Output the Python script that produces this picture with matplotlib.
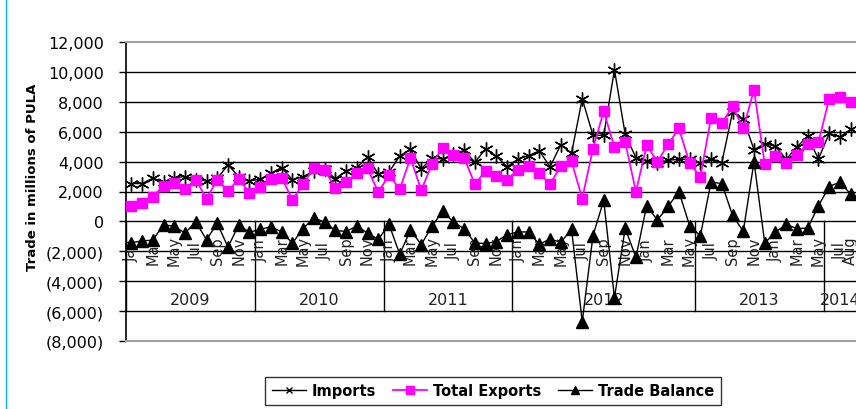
import numpy as np
import matplotlib
matplotlib.use("Agg")
import matplotlib.pyplot as plt
from matplotlib.lines import Line2D

# monthly trade data, Jan 2009 - Aug 2014 (millions of Pula)
imports = [2530, 2530, 2890, 2640, 2930, 3000, 2780, 2710, 2870, 3780, 3000, 2710,
           2820, 3220, 3600, 2780, 3000, 3350, 3480, 2860, 3370, 3600, 4330, 3160,
           3300, 4380, 4820, 3520, 4220, 4180, 4480, 4750, 3960, 4850, 4360, 3650,
           4160, 4400, 4720, 3650, 5130, 4550, 8200, 5760, 5760, 10150, 5820, 4260,
           4020, 3930, 4090, 4150, 4150, 3890, 4200, 3930, 7300, 6860, 4800, 5200,
           5020, 4150, 4980, 5700, 4170, 5880, 5650, 6150]
exports = [1040, 1220, 1660, 2380, 2550, 2150, 2780, 1530, 2780, 2040, 2820, 1930,
           2290, 2820, 2930, 1440, 2490, 3600, 3420, 2260, 2640, 3220, 3560, 1950,
           3100, 2160, 4250, 2080, 3830, 4940, 4430, 4260, 2480, 3400, 3020, 2780,
           3440, 3710, 3210, 2490, 3710, 4020, 1530, 4870, 7370, 4970, 5300, 1980,
           5080, 4000, 5150, 6220, 3890, 3000, 6930, 6550, 7700, 6220, 8800, 3830,
           4360, 3920, 4450, 5170, 5290, 8190, 8300, 8000]
balance = [-1420, -1310, -1250, -220, -340, -780, -30, -1230, -130, -1720, -230, -730,
           -530, -360, -700, -1460, -480, 250, -60, -600, -680, -300, -780, -1200,
           -200, -2200, -570, -1550, -330, 700, -50, -490, -1450, -1480, -1350, -880,
           -710, -700, -1530, -1180, -1400, -520, -6700, -950, 1400, -5100, -460, -2400,
           1050, 90, 1000, 2000, -280, -980, 2650, 2520, 410, -670, 4000, -1450,
           -710, -200, -480, -450, 1040, 2330, 2630, 1830]

month_names = ['Jan', 'Feb', 'Mar', 'Apr', 'May', 'Jun',
               'Jul', 'Aug', 'Sep', 'Oct', 'Nov', 'Dec']
# year groups as they appear on the category axis
year_labels = ['2009', '2010', '2011', '2012', '2013', '2014']
year_sizes = [12, 12, 12, 17, 12, 3]

n = len(imports)
x = np.arange(n)
months = [month_names[i % 12] for i in range(n)]

fig = plt.figure(figsize=(8.56, 4.10), dpi=100)
ax = fig.add_axes([126/856, 1 - 342/410, 730/856, 299/410])

ax.set_xlim(-0.5, n - 0.5)
ax.set_ylim(-8000, 12000)
yt = np.arange(-8000, 12001, 2000)
ax.set_yticks(yt)
ax.set_yticklabels([f"({abs(v):,})" if v < 0 else f"{v:,}" for v in yt], fontsize=11.5)
ax.tick_params(axis='y', direction='out', length=5, width=1, pad=11)
ax.set_xticks([])
for v in yt[1:-1]:
    ax.axhline(v, color='black', lw=1.0, zorder=1)

for s in ['top', 'bottom']:
    ax.spines[s].set_color('#a0a0a0')
    ax.spines[s].set_linewidth(1.5)
ax.spines['right'].set_visible(False)
ax.spines['left'].set_color('black')
ax.spines['left'].set_linewidth(1.2)

# multi-level category labels
for i in range(n):
    if i % 2 == 0 or i == n - 1:
        ax.text(i, -1900, months[i], rotation=90, ha='center', va='center',
                fontsize=10.5, color='#222222', zorder=2)
start = 0
for lab, size in zip(year_labels, year_sizes):
    ax.plot([start - 0.5, start - 0.5], [0, -6000], color='black', lw=1.0, zorder=1)
    ax.text(start + (size - 1) / 2, -5250, lab, ha='center', va='center',
            fontsize=11.5, color='#222222', zorder=2, clip_on=False)
    start += size

ax.plot(x, imports, color='black', lw=1.0, marker=(6, 2, 0), ms=10, mew=1.0,
        zorder=4, label='Imports')
ax.plot(x, exports, color='#ff00ff', lw=1.3, marker='s', ms=7, mec='#ff00ff',
        zorder=5, label='Total Exports')
ax.plot(x, balance, color='black', lw=1.0, marker='^', ms=9, zorder=6,
        label='Trade Balance')

ax.set_ylabel('Trade in millions of PULA', fontsize=9.5, fontweight='bold')
ax.yaxis.set_label_coords(-0.119, 0.55)

handles = [
    Line2D([], [], color='black', lw=1.0, marker='x', ms=4, mew=1.0),
    Line2D([], [], color='#ff00ff', lw=1.3, marker='s', ms=6),
    Line2D([], [], color='black', lw=1.0, marker='^', ms=6),
]
leg = fig.legend(handles, ['Imports', 'Total Exports', 'Trade Balance'],
                 loc='center', bbox_to_anchor=(493/856, 1 - 392/410), ncol=3,
                 frameon=True, fancybox=False, edgecolor='black', handlelength=2.3,
                 columnspacing=1.2, handletextpad=0.4, borderpad=0.45,
                 prop={'weight': 'bold', 'size': 10.5})
leg.get_frame().set_linewidth(1.0)

# outer chart border on the left
fig.add_artist(Line2D([6/856, 6/856], [0, 1], color='#00b0f0', lw=1.0,
                      transform=fig.transFigure))

fig.savefig('out.png', dpi=100)
